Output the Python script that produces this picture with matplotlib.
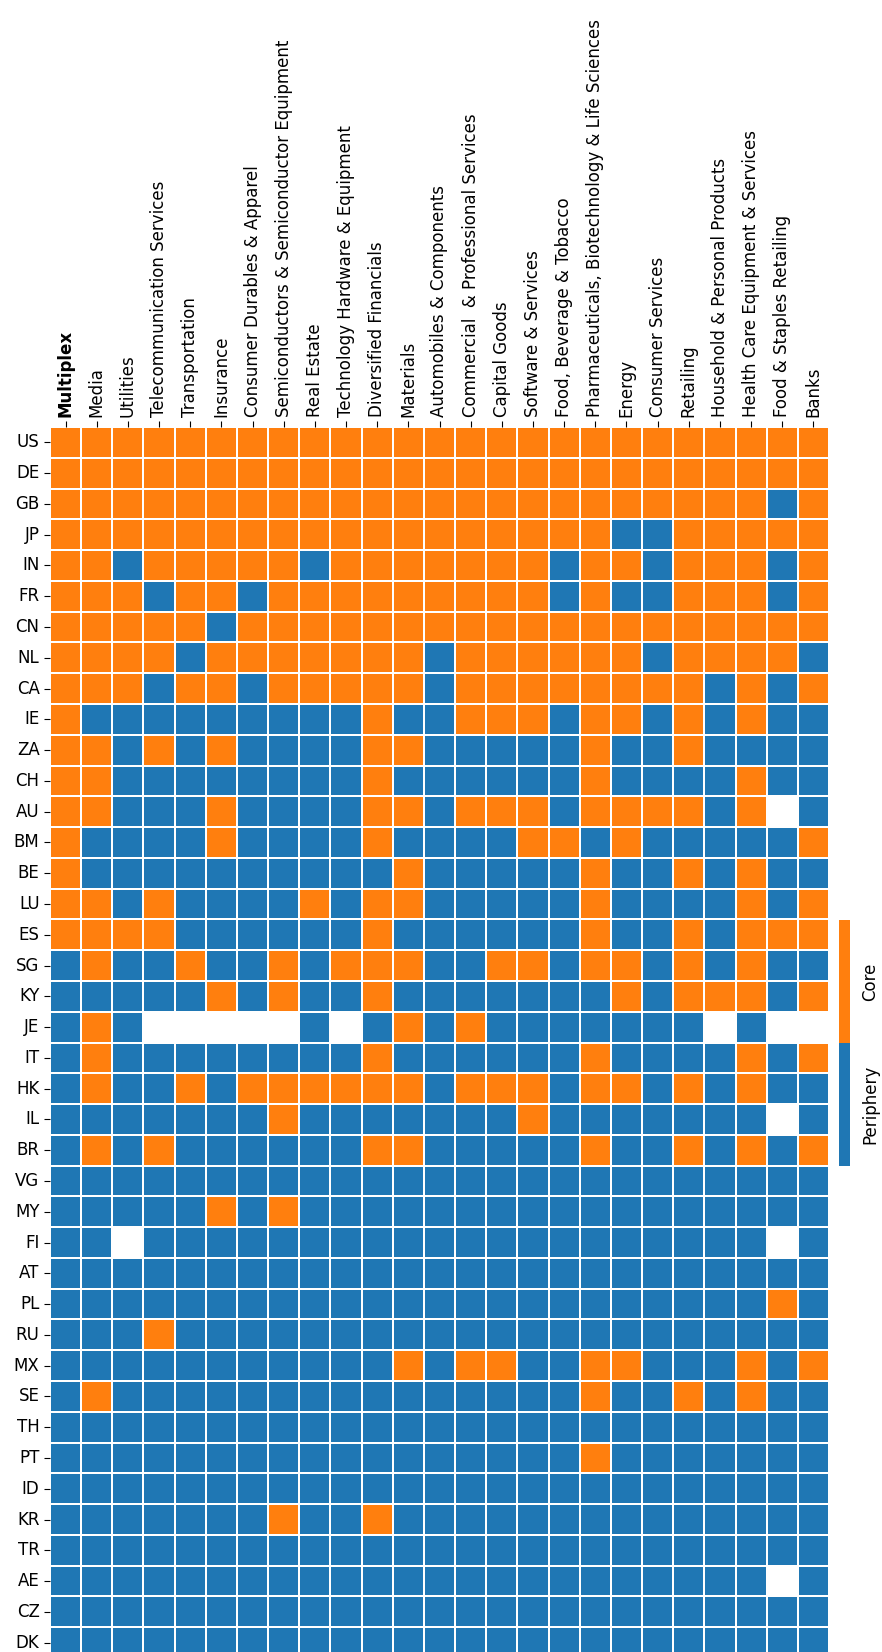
import matplotlib
matplotlib.use('Agg')
import matplotlib.pyplot as plt
import numpy as np
import seaborn as sns
from matplotlib.colors import ListedColormap

sectors = ['Multiplex', 'Media', 'Utilities', 'Telecommunication Services', 'Transportation',
           'Insurance', 'Consumer Durables & Apparel', 'Semiconductors & Semiconductor Equipment',
           'Real Estate', 'Technology Hardware & Equipment',
           'Diversified Financials', 'Materials', 'Automobiles & Components',
           'Commercial  & Professional Services', 'Capital Goods',
           'Software & Services', 'Food, Beverage & Tobacco',
           'Pharmaceuticals, Biotechnology & Life Sciences', 'Energy', 'Consumer Services',
           'Retailing', 'Household & Personal Products', 'Health Care Equipment & Services',
           'Food & Staples Retailing', 'Banks']

countries = ['US', 'DE', 'GB', 'JP', 'IN', 'FR', 'CN', 'NL', 'CA', 'IE',
             'ZA', 'CH', 'AU', 'BM', 'BE', 'LU', 'ES', 'SG', 'KY', 'JE',
             'IT', 'HK', 'IL', 'BR', 'VG', 'MY', 'FI', 'AT', 'PL', 'RU',
             'MX', 'SE', 'TH', 'PT', 'ID', 'KR', 'TR', 'AE', 'CZ', 'DK']

# 1 = core, 0 = periphery, . = no data  (groups of 5 sectors)
membership = [
    '11111 11111 11111 11111 11111',  # US
    '11111 11111 11111 11111 11111',  # DE
    '11111 11111 11111 11111 11101',  # GB
    '11111 11111 11111 11100 11111',  # JP
    '11011 11101 11111 10110 11101',  # IN
    '11101 10111 11111 10100 11101',  # FR
    '11111 01111 11111 11111 11111',  # CN
    '11110 11111 11011 11110 11110',  # NL
    '11101 10111 11011 11111 10101',  # CA
    '10000 00000 10011 10110 10100',  # IE
    '11010 10000 11000 00100 10000',  # ZA
    '11000 00000 10000 00100 00100',  # CH
    '11000 10000 11011 10111 101.0',  # AU
    '10000 10000 10000 11010 00001',  # BM
    '10000 00000 01000 00100 10100',  # BE
    '11010 00010 11000 00100 00101',  # LU
    '11110 00000 10000 00100 10111',  # ES
    '01001 00101 11001 10110 10100',  # SG
    '00000 10100 10000 00010 11101',  # KY
    '010.. ...0. 01010 00000 0.0..',  # JE
    '01000 00000 10000 00100 00101',  # IT
    '01001 01111 11011 10110 10100',  # HK
    '00000 00100 00000 10000 000.0',  # IL
    '01010 00000 11000 00100 10101',  # BR
    '00000 00000 00000 00000 00000',  # VG
    '00000 10100 00000 00000 00000',  # MY
    '00.00 00000 00000 00000 000.0',  # FI
    '00000 00000 00000 00000 00000',  # AT
    '00000 00000 00000 00000 00010',  # PL
    '00010 00000 00000 00000 00000',  # RU
    '00000 00000 01011 00110 00101',  # MX
    '01000 00000 00000 00100 10100',  # SE
    '00000 00000 00000 00000 00000',  # TH
    '00000 00000 00000 00100 00000',  # PT
    '00000 00000 00000 00000 00000',  # ID
    '00000 00100 10000 00000 00000',  # KR
    '00000 00000 00000 00000 00000',  # TR
    '00000 00000 00000 00000 000.0',  # AE
    '00000 00000 00000 00000 00000',  # CZ
    '00000 00000 00000 00000 00000',  # DK
]

data = np.array([[np.nan if c == '.' else float(c) for c in row.replace(' ', '')]
                 for row in membership])

cmap = ListedColormap(['#1f77b4', '#ff7f0e'])

W, H = 882, 1652
fig = plt.figure(figsize=(W / 100, H / 100), dpi=100)
ax = fig.add_axes([50 / W, (H - 1658) / H, 779 / W, 1231 / H])
cax = fig.add_axes([839 / W, (H - 1166) / H, 11 / W, 246 / H])

sns.heatmap(data, ax=ax, cbar_ax=cax, cmap=cmap, vmin=0, vmax=1,
            linewidths=1.2, linecolor='white',
            xticklabels=sectors, yticklabels=countries)

ax.xaxis.tick_top()
ax.tick_params(axis='both', labelsize=12, length=4, width=0.8)
ax.set_xticklabels(sectors, rotation=90, fontsize=12)
ax.set_yticklabels(countries, rotation=0, fontsize=12)
ax.get_xticklabels()[0].set_fontweight('bold')

cax.set_yticks([0.25, 0.75])
cax.set_yticklabels(['Periphery', 'Core'], rotation=90, va='center', fontsize=12)
cax.tick_params(length=0, pad=8)
for s in cax.spines.values():
    s.set_visible(False)

fig.savefig('out.png', dpi=100)
